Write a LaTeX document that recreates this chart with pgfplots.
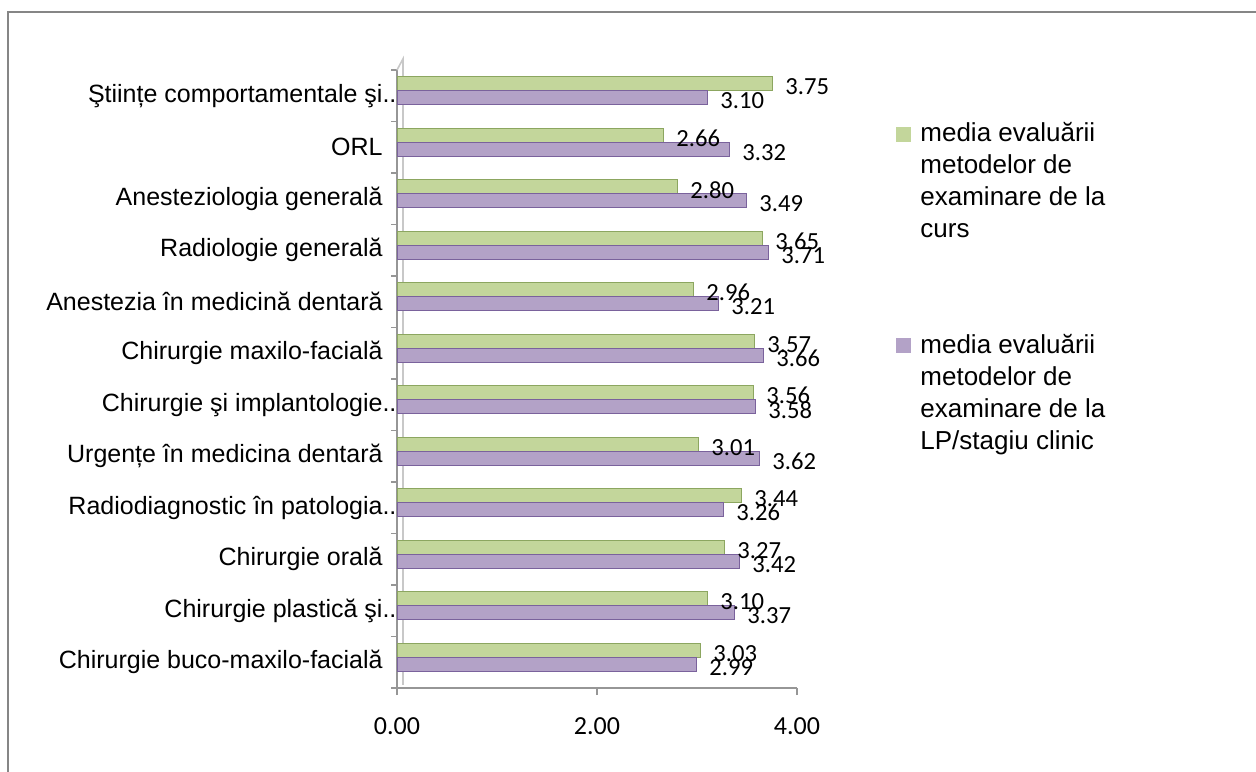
\documentclass[border=0pt]{standalone}
\usepackage{pgfplots}
\pgfplotsset{compat=1.18}
\usepackage{fontspec}
\setmainfont{Liberation Sans}
\newfontfamily\calib{Carlito}
\definecolor{framegray}{RGB}{134,134,134}
\definecolor{axgray}{RGB}{150,150,150}
\definecolor{wallgray}{RGB}{200,200,200}
\definecolor{gmid}{RGB}{195,214,155}
\definecolor{gbot}{RGB}{140,166,96}
\definecolor{pmid}{RGB}{179,162,199}
\definecolor{pbot}{RGB}{122,98,156}
\begin{document}
\begin{tikzpicture}[x=0.5pt,y=0.5pt]
\path[use as bounding box] (0,0) rectangle (1256,771);
\draw[line width=1.1pt, framegray] (8,-5) -- (8,759) -- (1262,759);
\begin{axis}[
  at={(198.5pt,41.5pt)}, anchor=south west,
  scale only axis, width=200pt, height=309pt,
  xmin=0, xmax=4, ymin=-0.5, ymax=11.5,
  axis x line*=bottom, axis y line*=left,
  axis line style={axgray, line width=0.8pt},
  xtick={0,2,4},
  xticklabel style={font=\calib\fontsize{13}{15}\selectfont, yshift=-8pt, /pgf/number format/.cd, fixed, zerofill, precision=2, assume math mode=true},
  ytick={0,...,11},
  yticklabels={Chirurgie buco-maxilo-facială, Chirurgie plastică şi\rlap{..}, Chirurgie orală\hspace{3pt}, Radiodiagnostic în patologia\rlap{..}, Urgențe în medicina dentară\hspace{2pt}, Chirurgie şi implantologie\rlap{..}, Chirurgie maxilo-facială, Anestezia în medicină dentară\hspace{2pt}, Radiologie generală\hspace{2pt}, Anesteziologia generală\hspace{2pt}, ORL\hspace{4pt}, Ştiințe comportamentale şi\rlap{..}},
  yticklabel style={font=\fontsize{12.5}{14}\selectfont, inner sep=0pt, anchor=east, xshift=-3.5pt},
  minor ytick={-0.5,0.5,...,11.5},
  major y tick style={draw=none},
  minor y tick style={axgray, line width=0.8pt},
  x tick style={axgray, line width=0.8pt},
  tick align=outside,
  major tick length=3.5pt, minor tick length=3pt,
  xbar, bar width=7pt,
  nodes near coords,
  nodes near coords style={font=\calib\fontsize{12.3}{14}\selectfont, anchor=west, inner sep=0pt, xshift=6.5pt, yshift=-1.5pt, black, /pgf/number format/.cd, fixed, zerofill, precision=2, assume math mode=true},
  clip=false,
]
\draw[wallgray, line width=0.8pt] (rel axis cs:0.015,0.005) -- (rel axis cs:0.015,1.018) -- (rel axis cs:0,1);
\addplot[fill=gmid, draw=gbot, line width=0.4pt, bar shift=6pt]
  coordinates {(3.03,0) (3.10,1) (3.27,2) (3.44,3) (3.01,4) (3.56,5) (3.57,6) (2.96,7) (3.65,8) (2.80,9) (2.66,10) (3.75,11)};
\addplot[fill=pmid, draw=pbot, line width=0.4pt, bar shift=-1pt]
  coordinates {(2.99,0) (3.37,1) (3.42,2) (3.26,3) (3.62,4) (3.58,5) (3.66,6) (3.21,7) (3.71,8) (3.49,9) (3.32,10) (3.10,11)};
\end{axis}
% legend
\fill[gmid] (896,629) rectangle (911,644);
\node[anchor=north west, align=left, inner sep=0pt, font=\fontsize{13}{16}\selectfont] at (920,649)
  {media evaluării\\metodelor de\\examinare de la\\curs};
\fill[pmid] (896,418) rectangle (911,433);
\node[anchor=north west, align=left, inner sep=0pt, font=\fontsize{13}{16}\selectfont] at (920,437)
  {media evaluării\\metodelor de\\examinare de la\\LP/stagiu clinic};
\end{tikzpicture}
\end{document}
